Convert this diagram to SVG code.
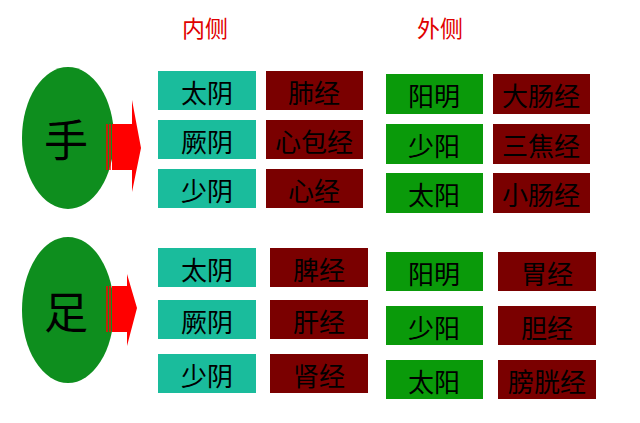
<svg xmlns="http://www.w3.org/2000/svg" width="640" height="423" viewBox="0 0 640 423">
<style>
text{font-family:"Noto Sans CJK SC","Liberation Sans",sans-serif;text-anchor:middle;dominant-baseline:central}
.t{fill:#1abc9c}.g{fill:#0a9a0a}.r{fill:#7a0000}
.b{font-size:26px;fill:#000}.h{font-size:23px;fill:#e00000}
.big{font-size:44px;fill:#000}
</style>
<rect width="640" height="423" fill="#fff"/>
<text class="h" x="205" y="27">内侧</text>
<text class="h" x="440" y="27">外侧</text>
<g id="hand"><ellipse cx="68" cy="138" rx="46" ry="71" fill="#0e8e1e"/><text class="big" x="66" y="138">手</text></g>
<g id="foot"><ellipse cx="68" cy="310" rx="46" ry="73" fill="#0e8e1e"/><text class="big" x="66" y="310">足</text></g>
<g id="connectors">
<path d="M112 124H132V100L141 148L132 192V170H112Z" fill="#ff0000"/>
<path d="M107 124V170M110 124V170" stroke="#ff0000" stroke-width="1.5"/>
<path d="M112 286H127V274L137 308L127 346V332H112Z" fill="#ff0000"/>
<path d="M107 286V332M110 286V332" stroke="#ff0000" stroke-width="1.5"/>
</g>
<g id="top-inner">
<rect class="t" x="158" y="71" width="98" height="39"/><text class="b" x="207" y="91">太阴</text>
<rect class="t" x="158" y="120" width="98" height="39"/><text class="b" x="207" y="140">厥阴</text>
<rect class="t" x="158" y="169" width="98" height="39"/><text class="b" x="207" y="189">少阴</text>
<rect class="r" x="266" y="71" width="97" height="39"/><text class="b" x="314" y="91">肺经</text>
<rect class="r" x="266" y="120" width="97" height="39"/><text class="b" x="314" y="140">心包经</text>
<rect class="r" x="266" y="169" width="97" height="39"/><text class="b" x="314" y="189">心经</text>
</g>
<g id="top-outer">
<rect class="g" x="386" y="74" width="97" height="40"/><text class="b" x="434" y="94">阳明</text>
<rect class="g" x="386" y="124" width="97" height="40"/><text class="b" x="434" y="144">少阳</text>
<rect class="g" x="386" y="173" width="97" height="40"/><text class="b" x="434" y="193">太阳</text>
<rect class="r" x="493" y="74" width="97" height="40"/><text class="b" x="541" y="94">大肠经</text>
<rect class="r" x="493" y="124" width="97" height="40"/><text class="b" x="541" y="144">三焦经</text>
<rect class="r" x="493" y="173" width="97" height="40"/><text class="b" x="541" y="193">小肠经</text>
</g>
<g id="bottom-inner">
<rect class="t" x="158" y="248" width="98" height="39"/><text class="b" x="207" y="268">太阴</text>
<rect class="t" x="158" y="300" width="98" height="39"/><text class="b" x="207" y="320">厥阴</text>
<rect class="t" x="158" y="354" width="98" height="39"/><text class="b" x="207" y="374">少阴</text>
<rect class="r" x="270" y="248" width="98" height="39"/><text class="b" x="319" y="268">脾经</text>
<rect class="r" x="270" y="300" width="98" height="39"/><text class="b" x="319" y="320">肝经</text>
<rect class="r" x="270" y="354" width="98" height="39"/><text class="b" x="319" y="374">肾经</text>
</g>
<g id="bottom-outer">
<rect class="g" x="386" y="252" width="97" height="39"/><text class="b" x="434" y="272">阳明</text>
<rect class="g" x="386" y="306" width="97" height="39"/><text class="b" x="434" y="326">少阳</text>
<rect class="g" x="386" y="360" width="97" height="39"/><text class="b" x="434" y="380">太阳</text>
<rect class="r" x="498" y="252" width="98" height="39"/><text class="b" x="547" y="272">胃经</text>
<rect class="r" x="498" y="306" width="98" height="39"/><text class="b" x="547" y="326">胆经</text>
<rect class="r" x="498" y="360" width="98" height="39"/><text class="b" x="547" y="380">膀胱经</text>
</g>
</svg>
